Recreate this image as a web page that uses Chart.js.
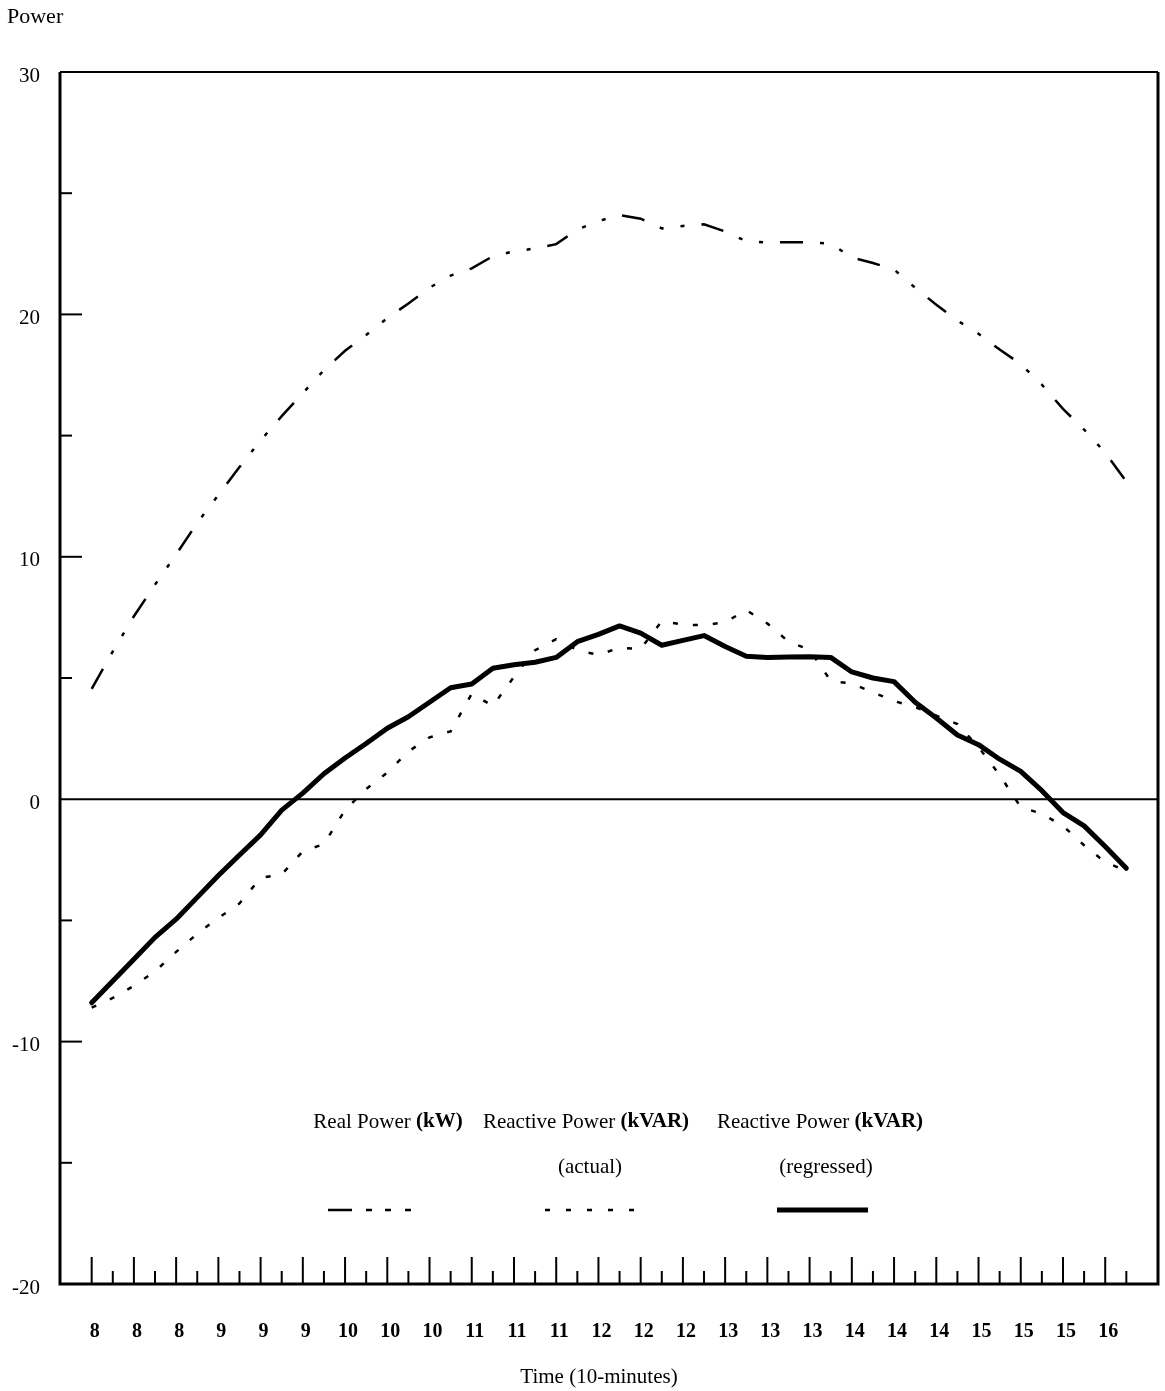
<!DOCTYPE html>
<html>
<head>
<meta charset="utf-8">
<title>Power</title>
<style>
    html, body { margin: 0; padding: 0; background: #fff; }
    #wrap { width: 1165px; height: 1391px; }
</style>
<script src="https://cdn.jsdelivr.net/npm/chart.js@4.4.1/dist/chart.umd.min.js"></script>
</head>
<body>
<div id="wrap"><canvas id="powerChart" width="1165" height="1391"></canvas></div>
<script>
        // Readings every half tick (50 samples), labels on every other sample
        const timeLabels = ['8', '8', '8', '9', '9', '9', '10', '10', '10', '11', '11', '11', '12',
                            '12', '12', '13', '13', '13', '14', '14', '14', '15', '15', '15', '16'];
        const yTickValues = [30, 20, 10, 0, -10, -20];
        const yMinorValues = [25, 15, 5, -5, -15];

        const realPower = [4.55, 6.1, 7.55, 8.85, 10.1, 11.4, 12.55, 13.7, 14.8, 15.8,
                           16.75, 17.7, 18.5, 19.15, 19.85, 20.45, 21.1, 21.6, 21.9, 22.4,
                           22.6, 22.72, 22.9, 23.5, 23.85, 24.1, 23.95, 23.55, 23.65, 23.72,
                           23.42, 23.02, 22.96, 22.98, 22.98, 22.92, 22.35, 22.12, 21.85, 21.1,
                           20.4, 19.75, 19.2, 18.55, 17.95, 17.1, 16.1, 15.25, 14.3, 13.1];

        const reactiveActual = [-8.6, -8.2, -7.7, -7.1, -6.3, -5.55, -4.9, -4.3, -3.25, -3.1,
                                -2.15, -1.85, -0.45, 0.42, 1.1, 1.97, 2.55, 2.8, 4.35, 3.85,
                                5.05, 6.15, 6.6, 6.15, 5.95, 6.25, 6.2, 7.35, 7.2, 7.18,
                                7.3, 7.8, 7.25, 6.5, 6.17, 4.88, 4.77, 4.41, 4.05, 3.8,
                                3.45, 3.1, 2.15, 1.0, -0.33, -0.6, -1.1, -1.9, -2.6, -2.95];

        const reactiveRegressed = [-8.4, -7.5, -6.6, -5.7, -4.95, -4.05, -3.15, -2.3, -1.47, -0.45,
                                   0.25, 1.05, 1.7, 2.3, 2.93, 3.4, 4.0, 4.6, 4.75, 5.4,
                                   5.55, 5.65, 5.85, 6.5, 6.8, 7.15, 6.85, 6.35, 6.55, 6.75,
                                   6.3, 5.9, 5.85, 5.87, 5.88, 5.85, 5.25, 5.0, 4.85, 4.0,
                                   3.35, 2.65, 2.25, 1.65, 1.15, 0.35, -0.55, -1.1, -1.95, -2.85];

        const serif = '"Liberation Serif", "Times New Roman", serif';

        function toPoints(values) {
            return values.map((v, i) => ({ x: i, y: v }));
        }

        // draw a run of text pieces (regular / bold) centred on cx
        function drawRuns(ctx, runs, cx, y, size) {
            let total = 0;
            runs.forEach(r => {
                ctx.font = (r.bold ? 'bold ' : '') + size + 'px ' + serif;
                r.w = ctx.measureText(r.text).width;
                total += r.w;
            });
            let x = cx - total / 2;
            ctx.textAlign = 'left';
            runs.forEach(r => {
                ctx.font = (r.bold ? 'bold ' : '') + size + 'px ' + serif;
                ctx.fillText(r.text, x, y);
                x += r.w;
            });
        }

        // Frame, inward ticks, tick labels, titles and legend
        const framePlugin = {
            id: 'frame',
            afterDraw(chart) {
                const ctx = chart.ctx;
                const area = chart.chartArea;
                const xs = chart.scales.x;
                const ys = chart.scales.y;
                ctx.save();
                ctx.strokeStyle = '#000';
                ctx.fillStyle = '#000';
                ctx.setLineDash([]);
                ctx.lineCap = 'butt';

                // box
                ctx.lineWidth = 3;
                ctx.beginPath();
                ctx.moveTo(area.left, area.top);
                ctx.lineTo(area.left, area.bottom);
                ctx.lineTo(area.right, area.bottom);
                ctx.lineTo(area.right, area.top);
                ctx.stroke();
                ctx.lineWidth = 2;
                ctx.beginPath();
                ctx.moveTo(area.left, area.top);
                ctx.lineTo(area.right, area.top);
                ctx.stroke();

                // zero line
                const y0 = ys.getPixelForValue(0);
                ctx.lineWidth = 2;
                ctx.beginPath();
                ctx.moveTo(area.left, y0);
                ctx.lineTo(area.right, y0);
                ctx.stroke();

                // y ticks pointing inward
                ctx.lineWidth = 2;
                yTickValues.forEach(v => {
                    if (v === yTickValues[0] || v === 0 || v === yTickValues[yTickValues.length - 1]) return;
                    const y = ys.getPixelForValue(v);
                    ctx.beginPath();
                    ctx.moveTo(area.left, y);
                    ctx.lineTo(area.left + 22, y);
                    ctx.stroke();
                });
                yMinorValues.forEach(v => {
                    const y = ys.getPixelForValue(v);
                    ctx.beginPath();
                    ctx.moveTo(area.left, y);
                    ctx.lineTo(area.left + 12, y);
                    ctx.stroke();
                });

                // x ticks pointing up from the bottom
                for (let i = 0; i < realPower.length; i++) {
                    const x = xs.getPixelForValue(i);
                    const len = i % 2 === 0 ? 27 : 13;
                    ctx.beginPath();
                    ctx.moveTo(x, area.bottom);
                    ctx.lineTo(x, area.bottom - len);
                    ctx.stroke();
                }

                // tick labels
                ctx.textBaseline = 'middle';
                ctx.font = 'bold 20px ' + serif;
                ctx.textAlign = 'center';
                timeLabels.forEach((lab, k) => {
                    ctx.fillText(lab, xs.getPixelForValue(k * 2) + 3, area.bottom + 48);
                });
                ctx.font = '21px ' + serif;
                ctx.textAlign = 'right';
                yTickValues.forEach(v => {
                    ctx.fillText(String(v), area.left - 20, ys.getPixelForValue(v) + 4);
                });

                // titles
                ctx.textAlign = 'left';
                ctx.font = '22px ' + serif;
                ctx.fillText('Power', 7, 17);
                ctx.textAlign = 'center';
                ctx.font = '21px ' + serif;
                ctx.fillText('Time (10-minutes)', 599, 1377);

                // legend
                drawRuns(ctx, [{ text: 'Real Power ' }, { text: '(kW)', bold: true }], 388, 1122, 21);
                drawRuns(ctx, [{ text: 'Reactive Power ' }, { text: '(kVAR)', bold: true }], 586, 1122, 21);
                drawRuns(ctx, [{ text: 'Reactive Power ' }, { text: '(kVAR)', bold: true }], 820, 1122, 21);
                drawRuns(ctx, [{ text: '(actual)' }], 590, 1167, 21);
                drawRuns(ctx, [{ text: '(regressed)' }], 826, 1167, 21);

                const ly = 1210;
                ctx.lineWidth = 2.5;
                ctx.setLineDash([24, 14, 6, 13, 6, 14, 6, 200]);
                ctx.beginPath();
                ctx.moveTo(328, ly);
                ctx.lineTo(412, ly);
                ctx.stroke();
                ctx.setLineDash([5, 16]);
                ctx.beginPath();
                ctx.moveTo(545, ly);
                ctx.lineTo(634, ly);
                ctx.stroke();
                ctx.setLineDash([]);
                ctx.lineWidth = 5;
                ctx.beginPath();
                ctx.moveTo(777, ly);
                ctx.lineTo(868, ly);
                ctx.stroke();

                ctx.restore();
            }
        };

        function initChart() {
            const ctx = document.getElementById('powerChart').getContext('2d');

            new Chart(ctx, {
                type: 'line',
                data: {
                    datasets: [{
                        label: 'Real Power (kW)',
                        data: toPoints(realPower),
                        borderColor: '#000',
                        borderWidth: 2.5,
                        borderDash: [23, 17, 4, 17, 4, 17],
                        pointRadius: 0,
                        tension: 0,
                        fill: false
                    }, {
                        label: 'Reactive Power (kVAR) (actual)',
                        data: toPoints(reactiveActual),
                        borderColor: '#000',
                        borderWidth: 2.5,
                        borderDash: [5, 15],
                        pointRadius: 0,
                        tension: 0,
                        fill: false
                    }, {
                        label: 'Reactive Power (kVAR) (regressed)',
                        data: toPoints(reactiveRegressed),
                        borderColor: '#000',
                        borderWidth: 5,
                        borderJoinStyle: 'round',
                        borderCapStyle: 'round',
                        pointRadius: 0,
                        tension: 0,
                        fill: false
                    }]
                },
                options: {
                    responsive: false,
                    animation: false,
                    devicePixelRatio: 1,
                    layout: {
                        padding: { left: 60, top: 72, right: 7, bottom: 107 }
                    },
                    plugins: {
                        legend: { display: false },
                        tooltip: { enabled: false }
                    },
                    scales: {
                        x: {
                            type: 'linear',
                            min: -1.5,
                            max: 50.5,
                            display: false
                        },
                        y: {
                            type: 'linear',
                            min: -20,
                            max: 30,
                            display: false
                        }
                    }
                },
                plugins: [framePlugin]
            });
        }

        document.addEventListener('DOMContentLoaded', function() {
            initChart();
        });
</script>
</body>
</html>
